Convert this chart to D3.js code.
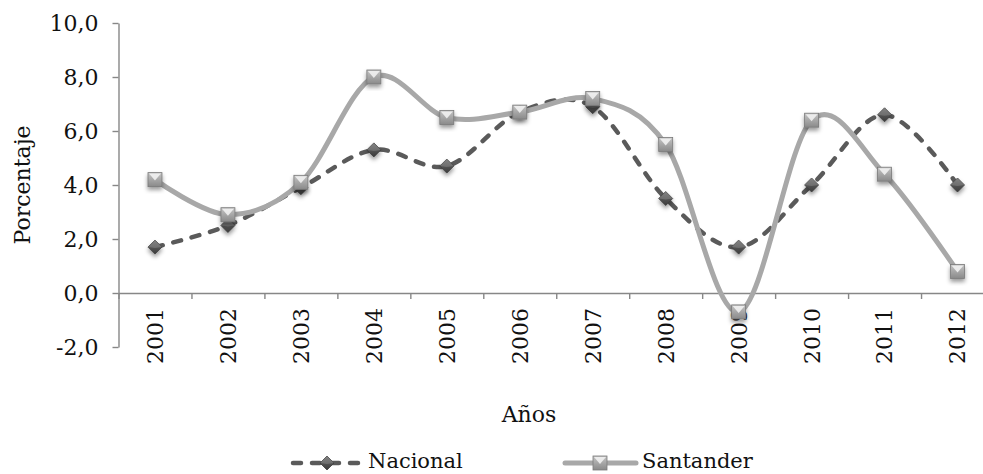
<!DOCTYPE html>
<html>
<head>
<meta charset="utf-8">
<script src="https://cdn.jsdelivr.net/npm/d3@7"></script>
<style>
  body { margin: 0; background: #fff; }
  svg text { font-family: "DejaVu Serif", serif; fill: #111; }
</style>
</head>
<body>
<div class="chart"></div>
<script>
// chart values
const years = ['2001', '2002', '2003', '2004', '2005', '2006', '2007', '2008', '2009', '2010', '2011', '2012'];
const nacional = [1.7, 2.5, 3.9, 5.3, 4.7, 6.7, 6.9, 3.5, 1.7, 4.0, 6.6, 4.0];
const santander = [4.2, 2.9, 4.1, 8.0, 6.5, 6.7, 7.2, 5.5, -0.7, 6.4, 4.4, 0.8];
const yTicks = [-2, 0, 2, 4, 6, 8, 10];

let width = 983,
  height = 474;

let svg = d3.select('.chart')
  .append('svg')
  .attr('width', width)
  .attr('height', height);

let defs = svg.append('defs');
// soft shadow under the markers
let shadow = defs.append('filter').attr('id', 'shadow')
  .attr('x', '-50%').attr('y', '-50%').attr('width', '200%').attr('height', '200%');
shadow.append('feDropShadow')
  .attr('dx', 0).attr('dy', 3).attr('stdDeviation', 2)
  .attr('flood-color', '#000').attr('flood-opacity', 0.4);

let sqGrad = defs.append('linearGradient').attr('id', 'sqGrad')
  .attr('x1', 0).attr('y1', 0).attr('x2', 0).attr('y2', 1);
sqGrad.append('stop').attr('offset', '0%').attr('stop-color', '#c4c4c4');
sqGrad.append('stop').attr('offset', '100%').attr('stop-color', '#8a8a8a');

let dmGrad = defs.append('linearGradient').attr('id', 'dmGrad')
  .attr('x1', 0).attr('y1', 0).attr('x2', 0).attr('y2', 1);
dmGrad.append('stop').attr('offset', '0%').attr('stop-color', '#7a7a7a');
dmGrad.append('stop').attr('offset', '50%').attr('stop-color', '#555');
dmGrad.append('stop').attr('offset', '100%').attr('stop-color', '#3a3a3a');

// scales
let x = d3.scaleBand().domain(years).range([118.5, 994]);
let xEdge = d3.scaleLinear().domain([0, years.length]).range(x.range());
let y = d3.scaleLinear().domain([-2, 10]).range([347, 23]);

let axisColor = '#878787';

// y axis
let yAxis = d3.axisLeft(y)
  .tickValues(yTicks)
  .tickSize(6)
  .tickSizeOuter(0)
  .tickPadding(14)
  .tickFormat(function (d) { return d.toFixed(1).replace('.', ','); });

let gy = svg.append('g')
  .attr('transform', 'translate(' + x.range()[0] + ',0)')
  .call(yAxis);
gy.select('.domain').attr('stroke', axisColor).attr('stroke-width', 1.4);
gy.selectAll('.tick line').attr('stroke', axisColor).attr('stroke-width', 1.4);
gy.selectAll('text').style('font-size', '22px').attr('fill', '#111');

// x axis sits on zero
let gx = svg.append('g')
  .attr('transform', 'translate(0,' + y(0) + ')')
  .call(d3.axisBottom(xEdge).ticks(years.length).tickSize(6).tickSizeOuter(0).tickFormat(''));
gx.select('.domain').attr('stroke', axisColor).attr('stroke-width', 1.4);
gx.selectAll('.tick line').attr('stroke', axisColor).attr('stroke-width', 1.4);

let gxl = svg.append('g')
  .attr('transform', 'translate(0,' + y(0) + ')')
  .call(d3.axisBottom(x).tickSize(0));
gxl.select('.domain').remove();
gxl.selectAll('text')
  .attr('transform', 'rotate(-90)')
  .attr('x', -15)
  .attr('y', 0)
  .attr('dy', '0.36em')
  .style('text-anchor', 'end')
  .style('font-size', '22px')
  .attr('fill', '#111');

// axis titles
svg.append('text')
  .attr('transform', 'rotate(-90)')
  .attr('x', -(y(10) + y(-2)) / 2)
  .attr('y', 30)
  .attr('text-anchor', 'middle')
  .style('font-size', '22px')
  .text('Porcentaje');

svg.append('text')
  .attr('x', 529)
  .attr('y', 422)
  .attr('text-anchor', 'middle')
  .style('font-size', '22px')
  .text('Años');

// smooth lines like the spreadsheet does
let line = d3.line()
  .x(function (d, i) { return x(years[i]) + x.bandwidth() / 2; })
  .y(function (d) { return y(d); })
  .curve(d3.curveCatmullRom.alpha(0));

let nacColor = '#5a5a5a',
  sanColor = '#a8a8a8';

function diamond(sel) {
  sel.append('path')
    .attr('d', 'M0,-7L7,0L0,7L-7,0Z')
    .attr('fill', 'url(#dmGrad)')
    .attr('stroke', '#3c3c3c')
    .attr('stroke-width', 0.8);
  sel.append('path')
    .attr('d', 'M0,-7L7,0L0,1L-7,0Z')
    .attr('fill', '#8a8a8a')
    .attr('opacity', 0.5);
}

function square(sel) {
  sel.append('rect')
    .attr('x', -7).attr('y', -7).attr('width', 14).attr('height', 14)
    .attr('fill', 'url(#sqGrad)')
    .attr('stroke', '#7a7a7a')
    .attr('stroke-width', 0.8);
  sel.append('path')
    .attr('d', 'M-6,-6L6,-6L0,1Z')
    .attr('fill', '#f4f4f4')
    .attr('opacity', 0.85);
}

// Nacional
svg.append('path')
  .datum(nacional)
  .attr('d', line)
  .attr('fill', 'none')
  .attr('stroke', nacColor)
  .attr('stroke-width', 4.5)
  .attr('stroke-dasharray', '8,11')
  .attr('stroke-linecap', 'round');

svg.selectAll('.nac')
  .data(nacional)
  .enter()
  .append('g')
  .attr('class', 'nac')
  .attr('filter', 'url(#shadow)')
  .attr('transform', function (d, i) {
    return 'translate(' + (x(years[i]) + x.bandwidth() / 2) + ',' + y(d) + ')';
  })
  .call(diamond);

// Santander
svg.append('path')
  .datum(santander)
  .attr('d', line)
  .attr('fill', 'none')
  .attr('stroke', sanColor)
  .attr('stroke-width', 5)
  .attr('stroke-linecap', 'round');

svg.selectAll('.san')
  .data(santander)
  .enter()
  .append('g')
  .attr('class', 'san')
  .attr('filter', 'url(#shadow)')
  .attr('transform', function (d, i) {
    return 'translate(' + (x(years[i]) + x.bandwidth() / 2) + ',' + y(d) + ')';
  })
  .call(square);

// legend
let leg = svg.append('g');
leg.append('line')
  .attr('x1', 293).attr('x2', 360).attr('y1', 463).attr('y2', 463)
  .attr('stroke', nacColor).attr('stroke-width', 4.5)
  .attr('stroke-dasharray', '8,11').attr('stroke-linecap', 'round');
leg.append('g').attr('transform', 'translate(327,463)').call(diamond);
leg.append('text').attr('x', 368).attr('y', 468).style('font-size', '21px').text('Nacional');

leg.append('line')
  .attr('x1', 565).attr('x2', 636).attr('y1', 463).attr('y2', 463)
  .attr('stroke', sanColor).attr('stroke-width', 5).attr('stroke-linecap', 'round');
leg.append('g').attr('transform', 'translate(600,463)').call(square);
leg.append('text').attr('x', 642).attr('y', 468).style('font-size', '21px').text('Santander');
</script>
</body>
</html>
